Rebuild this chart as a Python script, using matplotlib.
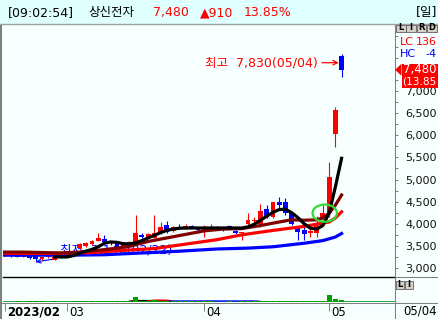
import numpy as np
import matplotlib
matplotlib.use("Agg")
import matplotlib.pyplot as plt
from matplotlib.patches import Rectangle, Polygon, Ellipse
from matplotlib.lines import Line2D
from matplotlib.ticker import FixedLocator

plt.rcParams['font.family'] = ['DejaVu Sans', 'Noto Sans CJK KR']

# ── daily candles (trading-day index 0 = 2023/02/15) ─────────────────────────
opens  = [3300, 3290, 3280, 3260, 3290, 3290, 3200, 3250, 3190, 3250,
          3260, 3300, 3450, 3500, 3540, 3610, 3650, 3590, 3560, 3480,
          3520, 3590, 3750, 3700, 3680, 3790, 3970, 3840, 3930, 3900,
          3950, 3900, 3860, 3880, 3910, 3900, 3950, 3830, 3790, 3990,
          4070, 4000, 4330, 4150, 4490, 4490, 4240, 3930, 3860, 3790,
          3800, 4150, 4250, 6030, 7800]
highs  = [3320, 3310, 3300, 3300, 3300, 3300, 3260, 3280, 3260, 3280,
          3330, 3400, 3570, 3580, 3630, 3790, 3750, 3620, 3580, 3540,
          3600, 4200, 3790, 3800, 4200, 4030, 4060, 3950, 3990, 4000,
          3970, 3920, 3970, 4000, 3940, 3920, 3980, 3850, 3820, 4240,
          4150, 4450, 4420, 4500, 4600, 4580, 4260, 3960, 4040, 3900,
          4180, 4450, 5400, 6640, 7830]
lows   = [3270, 3260, 3240, 3240, 3210, 3140, 3180, 3220, 3180, 3230,
          3250, 3290, 3440, 3480, 3530, 3600, 3580, 3530, 3450, 3460,
          3500, 3570, 3680, 3690, 3670, 3780, 3800, 3820, 3880, 3890,
          3900, 3790, 3700, 3860, 3880, 3840, 3890, 3780, 3640, 3950,
          4040, 3920, 4130, 4120, 4330, 4200, 3980, 3640, 3630, 3700,
          3700, 4100, 4150, 5740, 7320]
closes = [3290, 3280, 3260, 3290, 3230, 3200, 3250, 3260, 3250, 3250,
          3300, 3380, 3540, 3565, 3610, 3680, 3590, 3560, 3480, 3520,
          3590, 3790, 3700, 3780, 3790, 3930, 3815, 3930, 3900, 3950,
          3920, 3860, 3880, 3910, 3900, 3860, 3905, 3790, 3810, 4080,
          4090, 4290, 4150, 4490, 4420, 4240, 4000, 3810, 3770, 3840,
          3960, 4250, 5060, 6570, 7480]
volumes = [5, 4, 6, 5, 7, 8, 6, 5, 6, 4,
           5, 7, 9, 8, 8, 12, 9, 7, 8, 6,
           7, 50, 12, 10, 20, 14, 11, 8, 7, 7,
           6, 6, 7, 6, 5, 5, 6, 5, 8, 10,
           9, 12, 11, 15, 10, 9, 8, 10, 9, 7,
           10, 12, 70, 35, 22]
days = np.arange(len(closes))

# ── moving averages (day, price) ─────────────────────────────────────────────
ma5_days = [8, 9, 10, 11, 12, 13, 14, 15, 16, 17, 18, 19, 20, 21, 22, 23, 24,
            25, 26, 27, 28, 30, 32, 34, 36, 38, 39, 40, 41, 42, 43, 44, 45,
            46, 47, 48, 49, 50, 51, 52, 53, 54]
ma5_vals = [3250, 3250, 3250, 3280, 3330, 3380, 3420, 3480, 3560, 3590, 3580,
            3550, 3545, 3570, 3620, 3680, 3740, 3800, 3850, 3880, 3900, 3905,
            3905, 3905, 3905, 3905, 3930, 3990, 4080, 4170, 4260, 4320, 4330,
            4250, 4140, 4000, 3900, 3880, 3960, 4240, 4830, 5480]
ma20_days = [0, 3, 6, 9, 12, 15, 18, 20, 23, 26, 29, 32, 35, 38, 41, 44, 46,
             48, 50, 51, 52, 53, 54]
ma20_vals = [3360, 3360, 3350, 3340, 3360, 3400, 3450, 3490, 3600, 3680, 3760,
             3840, 3880, 3890, 3960, 4040, 4090, 4080, 4090, 4130, 4240, 4420,
             4650]
ma60_days = [0, 8, 14, 18, 24, 29, 34, 38, 43, 48, 52, 53, 54]
ma60_vals = [3330, 3330, 3350, 3390, 3440, 3540, 3640, 3750, 3850, 3940, 4040,
             4130, 4270]
ma120_days = [0, 10, 16, 22, 28, 34, 39, 43, 48, 51, 52, 53, 54]
ma120_vals = [3290, 3290, 3300, 3340, 3380, 3430, 3450, 3480, 3560, 3620, 3660,
              3700, 3780]

# volume averages (only the parts that rise above the base line)
vma_black_days = [20, 21, 25, 26]
vma_black_vals = [8, 14, 14, 8]
vma_red_days = [23, 24, 26, 27]
vma_red_vals = [9, 18, 18, 9]
vma_blue_days = [26, 27, 40, 41]
vma_blue_vals = [6, 10, 10, 6]

month_days = [0, 10, 32, 52]
month_labels = ['2023/02', '03', '04', '05']
price_ticks = list(range(3000, 7001, 500))
minor_ticks = list(range(3000, 8251, 250))

signal_day, signal_price = 51.3, 4240
low_day, low_price, low_label = 5, 3140, '최저  3,140(02/22)'
high_label = '최고  7,830(05/04)'

# ── colours ──────────────────────────────────────────────────────────────────
BG = '#F7FFFF'
HEADER_BG = '#E0FFFF'
RED = '#FF0000'
BLUE = '#0000FF'
DKRED = '#800000'
GREEN_VOL = '#00A000'
GRAY = '#808080'

W, H = 438, 319
fig = plt.figure(figsize=(W / 100, H / 100), dpi=100, facecolor=BG)


def fx(x):
    return x / W


def fy(y):
    return 1 - y / H


def fline(x0, y0, x1, y1, color=GRAY, lw=0.75, z=3):
    fig.add_artist(Line2D([fx(x0), fx(x1)], [fy(y0), fy(y1)], color=color,
                          lw=lw, transform=fig.transFigure, zorder=z))


# ── main price panel ─────────────────────────────────────────────────────────
ax = fig.add_axes([fx(3), fy(277), 392 / W, 252 / H], facecolor=BG)
ax.set_xlim(-0.26, 62.56)
ax.set_ylim(2797, 8492)

up = np.array(closes) >= np.array(opens)
colors = np.where(up, RED, BLUE)
body_lo = np.minimum(opens, closes)
body_h = np.maximum(np.abs(np.array(closes) - np.array(opens)), 18)
ax.vlines(days, lows, highs, colors=colors, lw=0.8, zorder=2)
ax.bar(days, body_h, bottom=body_lo, width=0.78, color=colors, lw=0, zorder=2)

ax.plot(ma120_days, ma120_vals, color=BLUE, lw=2.3, zorder=4)
ax.plot(ma60_days, ma60_vals, color=RED, lw=2.3, zorder=4)
ax.plot(ma20_days, ma20_vals, color=DKRED, lw=2.3, zorder=5)
ax.plot(ma5_days, ma5_vals, color='black', lw=2.3, zorder=6)

ax.add_patch(Ellipse((signal_day, signal_price), 3.9, 390, fill=False,
                     edgecolor='#30DD30', lw=1.6, zorder=7))

# high / low annotations
last = len(closes) - 1
ax.annotate(high_label, xy=(last - 0.45, (opens[last] + closes[last]) / 2),
            xytext=(-21, 0), textcoords='offset pixels', ha='right',
            va='center', color=RED, fontsize=9,
            arrowprops=dict(arrowstyle='->', color=RED, lw=0.9,
                            shrinkA=1, shrinkB=0, mutation_scale=8))
ax.annotate(low_label, xy=(low_day, low_price), xytext=(24, 12),
            textcoords='offset pixels', ha='left', va='center', color=BLUE,
            fontsize=9, zorder=1,
            arrowprops=dict(arrowstyle='->', color=BLUE, lw=0.8,
                            shrinkA=1, shrinkB=0, mutation_scale=7))

for s in ['top', 'left', 'right']:
    ax.spines[s].set_visible(False)
ax.spines['bottom'].set_color('black')
ax.spines['bottom'].set_linewidth(1.0)
ax.set_xticks([])
ax.yaxis.tick_right()
ax.set_yticks(price_ticks)
ax.set_yticklabels([f'{p:,}' for p in price_ticks])
ax.yaxis.set_minor_locator(FixedLocator(minor_ticks))
ax.tick_params(axis='y', which='both', length=2.5, width=0.7, color=GRAY,
               pad=5, labelsize=8, labelcolor='#111111')

# ── volume panel ─────────────────────────────────────────────────────────────
axv = fig.add_axes([fx(3), fy(302), 392 / W, 24 / H], facecolor=BG)
axv.set_xlim(ax.get_xlim())
axv.set_ylim(0, 240)
axv.bar(days, volumes, width=0.78, color=GREEN_VOL, lw=0, zorder=3)
axv.axhline(0, color='#22AA44', lw=1.4, zorder=2)
axv.plot(vma_black_days, vma_black_vals, color='black', lw=1, zorder=2)
axv.plot(vma_red_days, vma_red_vals, color=RED, lw=1, zorder=2)
axv.plot(vma_blue_days, vma_blue_vals, color=BLUE, lw=1, zorder=2)
axv.axis('off')

# ── date axis ────────────────────────────────────────────────────────────────
axd = fig.add_axes([fx(3), fy(319), 392 / W, 16 / H], facecolor=BG)
axd.set_xlim(ax.get_xlim())
axd.set_ylim(0, 1)
for s in axd.spines.values():
    s.set_visible(False)
axd.set_yticks([])
axd.set_xticks(month_days)
axd.tick_params(axis='x', direction='in', length=5.5, width=0.7, color=GRAY,
                top=True, bottom=False, labelbottom=False)
for d, lab in zip(month_days, month_labels):
    axd.annotate(lab, xy=(d, 0.42), xycoords=('data', 'axes fraction'),
                 xytext=(1.5, 0), textcoords='offset points', ha='left',
                 va='center', fontsize=8.5, color='black',
                 fontweight='bold' if lab.startswith('20') else 'normal')
fig.text(fx(437), fy(311), '05/04', ha='right', va='center', fontsize=8.5)

# ── frame lines ──────────────────────────────────────────────────────────────
fline(0, 303, W, 303)
fline(395, 25, 395, H)
fline(1.2, 25, 1.2, H, lw=1.5)
fline(395, 277, W, 277)

# ── header bar ───────────────────────────────────────────────────────────────
fig.add_artist(Rectangle((0, fy(24)), 1, 24 / H, transform=fig.transFigure,
                         facecolor=HEADER_BG, edgecolor='none', zorder=2))
fline(0, 24, W, 24, color='#A0A0A0', lw=1)
hy = fy(12.5)
fig.text(fx(8), hy, '[09:02:54]', ha='left', va='center', fontsize=9, zorder=4)
fig.text(fx(88), hy, '상신전자', ha='left', va='center', fontsize=9, zorder=4)
fig.text(fx(153), hy, '7,480', ha='left', va='center', fontsize=9, color=RED, zorder=4)
fig.text(fx(200), hy, '▲910', ha='left', va='center', fontsize=9, color=RED, zorder=4)
fig.text(fx(244), hy, '13.85%', ha='left', va='center', fontsize=9, color=RED, zorder=4)
fig.text(fx(437), hy, '[일]', ha='right', va='center', fontsize=9, zorder=4)

# L I R D buttons and L I buttons
for k, ch in enumerate('LIRD'):
    x0 = 396 + k * 10.4
    fig.add_artist(Rectangle((fx(x0), fy(31.5)), 9.6 / W, 7 / H,
                             transform=fig.transFigure, facecolor='#D4D0C8',
                             edgecolor='#606060', lw=0.6, zorder=3))
    fig.text(fx(x0 + 4.8), fy(28), ch, ha='center', va='center', fontsize=6,
             fontweight='bold', zorder=4)
for k, ch in enumerate('LI'):
    x0 = 396 + k * 8.6
    fig.add_artist(Rectangle((fx(x0), fy(288.5)), 8 / W, 8 / H,
                             transform=fig.transFigure, facecolor='#D4D0C8',
                             edgecolor='#606060', lw=0.6, zorder=3))
    fig.text(fx(x0 + 4), fy(284.5), ch, ha='center', va='center', fontsize=6,
             fontweight='bold', zorder=4)

# LC / HC labels
fig.text(fx(399.5), fy(42), 'LC', ha='left', va='center', fontsize=8, color=RED)
fig.text(fx(437), fy(42), '136', ha='right', va='center', fontsize=8, color=RED)
fig.text(fx(399.5), fy(54), 'HC', ha='left', va='center', fontsize=8, color=BLUE)
fig.text(fx(437), fy(54), '-4', ha='right', va='center', fontsize=8, color=BLUE)

# current price tag
tag_y = ax.transData.transform((0, closes[last]))[1] / H
fig.add_artist(Polygon([[fx(395), tag_y], [fx(401.5), tag_y + 6 / H],
                        [fx(401.5), tag_y - 6 / H]], closed=True,
                       transform=fig.transFigure, facecolor=RED,
                       edgecolor='none', zorder=5))
fig.add_artist(Rectangle((fx(402), tag_y - 18 / H), 36 / W, 24 / H,
                         transform=fig.transFigure, facecolor=RED,
                         edgecolor='none', zorder=5))
fig.text(fx(403), tag_y, f'{closes[last]:,}', ha='left', va='center',
         fontsize=8.5, color='white', zorder=6)
fig.text(fx(402.5), tag_y - 12 / H, '(13.85', ha='left', va='center',
         fontsize=7.6, color='white', zorder=6)

fig.savefig('out.png', dpi=100, facecolor=BG)
